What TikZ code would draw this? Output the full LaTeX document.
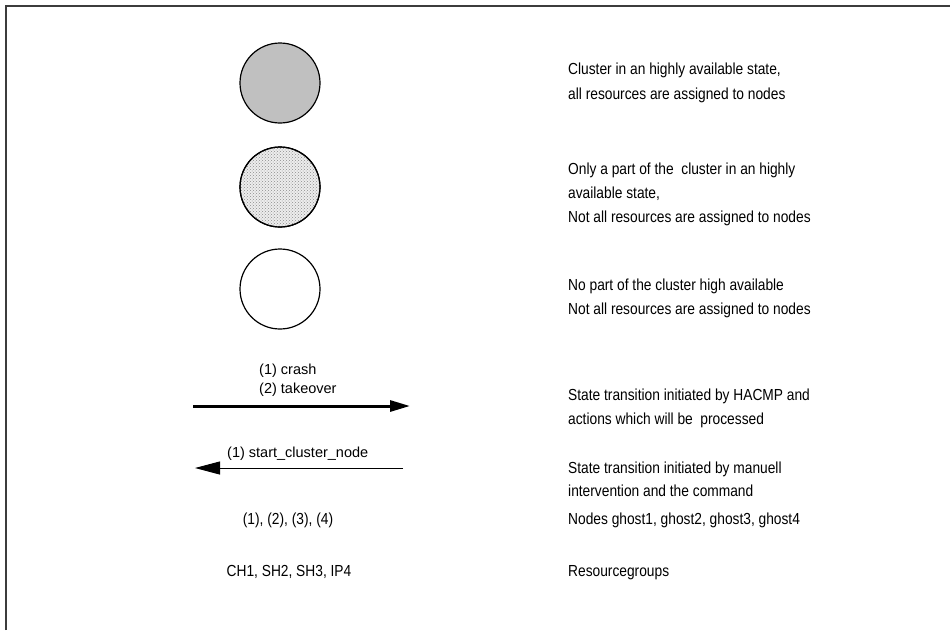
\documentclass[tikz,border=0pt]{standalone}
\usepackage{fontspec}
\setmainfont{Liberation Sans}
\newfontfamily\legendfont[FakeStretch=0.86]{Liberation Sans}
\usetikzlibrary{arrows.meta,patterns}
\definecolor{statefill}{RGB}{192,192,192}
\definecolor{framegray}{RGB}{60,60,60}
\begin{document}
\begin{tikzpicture}[x=1pt,y=-1pt,
  statecircle/.style={circle,draw=black,line width=1.2pt,minimum size=80pt,inner sep=0pt},
  legendtext/.style={anchor=base west,inner sep=0pt,font=\legendfont\fontsize{16}{19}\selectfont},
  keytext/.style={legendtext,anchor=base},
  arrowlabel/.style={anchor=base west,inner sep=0pt,font=\fontsize{14.5}{17}\selectfont},
  autoarrow/.style={line width=3pt,-{Triangle[length=20pt,width=11pt]}},
  manualarrow/.style={line width=1pt,-{Triangle[length=25pt,width=13pt]}}]
  \useasboundingbox (0,0) rectangle (950,630);
  % page frame (top and left edge only)
  \draw[framegray,line width=1.5pt] (6,630) -- (6,6) -- (950,6);

  % state symbols
  \node[statecircle,fill=statefill] (full) at (280,83) {};
  \node[statecircle,fill=black!7] (partfill) at (280,187) {};
  \node[statecircle,pattern=crosshatch dots,pattern color=black!45] (part) at (280,187) {};
  \node[statecircle] (none) at (280,289) {};

  % legend texts
  \node[legendtext] (t1a) at (568,74)  {Cluster in an highly available state,};
  \node[legendtext] (t1b) at (568,99)  {all resources are assigned to nodes};
  \node[legendtext] (t2a) at (568,174) {Only a part of the \ cluster in an highly};
  \node[legendtext] (t2b) at (568,198) {available state,};
  \node[legendtext] (t2c) at (568,222) {Not all resources are assigned to nodes};
  \node[legendtext] (t3a) at (568,290) {No part of the cluster high available};
  \node[legendtext] (t3b) at (568,314) {Not all resources are assigned to nodes};
  \node[legendtext] (t4a) at (568,400) {State transition initiated by HACMP and};
  \node[legendtext] (t4b) at (568,424) {actions which will be \ processed};
  \node[legendtext] (t5a) at (568,473) {State transition initiated by manuell};
  \node[legendtext] (t5b) at (568,496) {intervention and the command};
  \node[legendtext] (t6)  at (568,524) {Nodes ghost1, ghost2, ghost3, ghost4};
  \node[legendtext] (t7)  at (568,576) {Resourcegroups};

  % transition arrows
  \coordinate (a1s) at (193,406);
  \coordinate (a1e) at (410,406);
  \draw[autoarrow] (a1s) -- (a1e);
  \node[arrowlabel] (l1a) at (259,374) {(1) crash};
  \node[arrowlabel] (l1b) at (259,393) {(2) takeover};

  \coordinate (a2s) at (403,468);
  \coordinate (a2e) at (195,468);
  \draw[manualarrow] (a2s) -- (a2e);
  \node[arrowlabel] (l2) at (227,457) {(1) start\_cluster\_node};

  % left column keys
  \node[keytext] (k1) at (288,524) {(1), (2), (3), (4)};
  \node[keytext] (k2) at (289,576) {CH1, SH2, SH3, IP4};
\end{tikzpicture}
\end{document}
